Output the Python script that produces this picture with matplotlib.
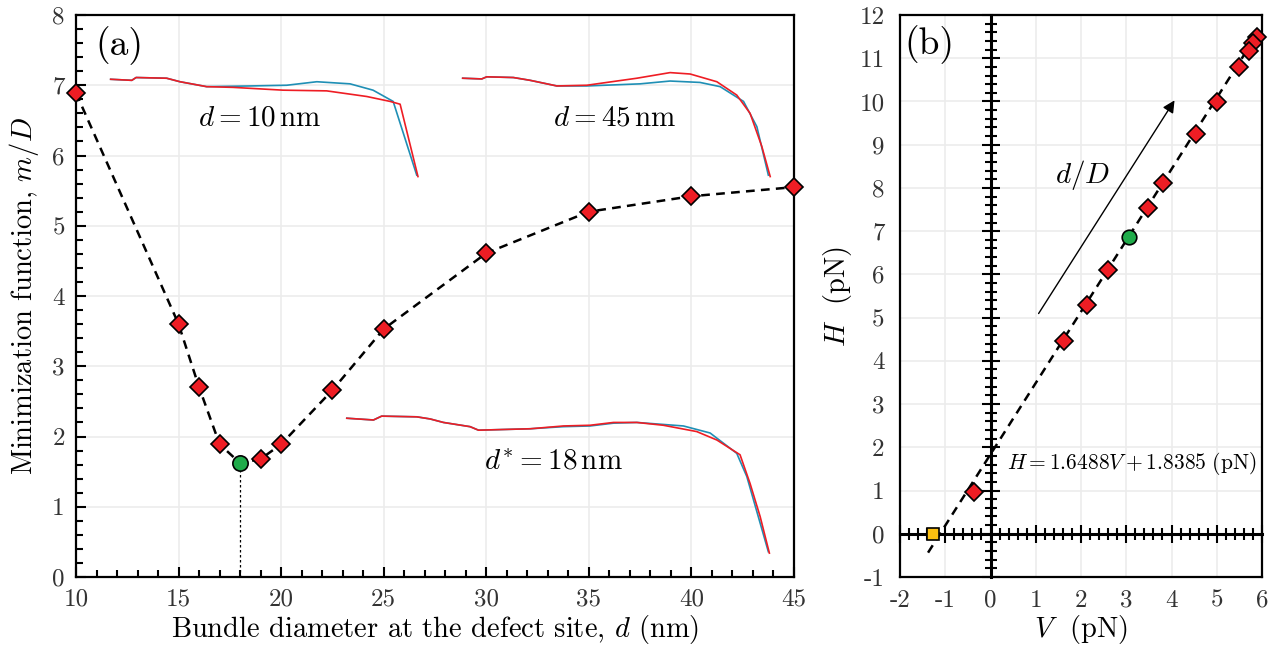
import numpy as np
import matplotlib
matplotlib.use("Agg")
import matplotlib.pyplot as plt
from matplotlib.ticker import MultipleLocator, FuncFormatter

plt.rcParams['font.family'] = 'serif'
plt.rcParams['font.serif'] = ['cmr10']
plt.rcParams['mathtext.fontset'] = 'cm'
plt.rcParams['axes.unicode_minus'] = False

# ---------------- Panel (a) data ----------------
d_vals = [10, 15, 16, 17, 18, 19, 20, 22.5, 25, 30, 35, 40, 45]
m_vals = [6.89, 3.60, 2.70, 1.89, 1.62, 1.68, 1.89, 2.66, 3.53, 4.61, 5.20, 5.42, 5.55]
d_star = 18
m_star = 1.62

# inset shape curves (drawn in panel (a) data units)
s10_red_x = [11.69, 12.72, 12.93, 14.42, 15.07, 16.37, 17.65, 20.09, 22.22, 24.17, 25.31, 25.80, 26.67]
s10_red_y = [7.085, 7.07, 7.11, 7.10, 7.05, 6.98, 6.97, 6.93, 6.92, 6.84, 6.77, 6.73, 5.70]
s10_blue_x = [11.69, 12.72, 12.93, 14.42, 15.07, 16.37, 18.48, 20.27, 21.74, 23.36, 24.48, 25.46, 26.61]
s10_blue_y = [7.085, 7.07, 7.11, 7.10, 7.05, 6.98, 6.99, 7.00, 7.05, 7.02, 6.93, 6.77, 5.72]

s45_red_x = [28.85, 29.78, 30.02, 31.32, 32.14, 33.44, 34.90, 36.36, 37.34, 38.96, 39.94, 41.24, 42.21, 42.86, 43.43, 43.84]
s45_red_y = [7.10, 7.09, 7.12, 7.11, 7.07, 6.99, 7.00, 7.06, 7.10, 7.18, 7.16, 7.05, 6.86, 6.60, 6.13, 5.70]
s45_blue_x = [28.85, 29.78, 30.02, 31.32, 32.14, 33.44, 34.90, 37.50, 38.96, 40.42, 41.40, 42.54, 43.19, 43.75]
s45_blue_y = [7.10, 7.09, 7.12, 7.11, 7.07, 6.99, 6.99, 7.02, 7.06, 7.04, 6.98, 6.77, 6.41, 5.72]

s18_red_x = [23.20, 24.50, 24.90, 26.61, 27.26, 27.91, 29.21, 29.62, 32.14, 33.76, 35.06, 36.20, 37.34, 38.63, 40.26, 41.24, 42.37, 42.86, 43.35, 43.80]
s18_red_y = [2.26, 2.235, 2.29, 2.28, 2.25, 2.20, 2.14, 2.09, 2.11, 2.15, 2.16, 2.20, 2.20, 2.16, 2.07, 1.95, 1.74, 1.33, 0.86, 0.34]
s18_blue_x = [23.20, 24.50, 24.90, 26.61, 27.26, 27.91, 29.21, 29.62, 32.14, 33.76, 35.06, 36.20, 37.34, 39.61, 40.91, 42.21, 42.70, 43.68, 43.75]
s18_blue_y = [2.26, 2.235, 2.29, 2.28, 2.25, 2.20, 2.14, 2.09, 2.11, 2.14, 2.15, 2.19, 2.20, 2.15, 2.05, 1.76, 1.43, 0.43, 0.36]

# ---------------- Panel (b) data ----------------
V_vals = [5.896, 5.794, 5.713, 5.498, 4.999, 4.535, 3.819, 3.474, 2.590, 2.126, 1.631, -0.358]
H_vals = [11.498, 11.345, 11.174, 10.804, 9.994, 9.240, 8.107, 7.528, 6.101, 5.292, 4.466, 0.973]
V_star, H_star = 3.061, 6.858
V_zero, H_zero = -1.277, 0.0
fit_slope, fit_icpt = 1.6488, 1.8385
fit_V_range = [-1.38, 5.95]

RED = '#ee1d24'
BLUE = '#1f8fb5'
GREEN = '#1fab4a'
YELLOW = '#fdc010'
GRID = '#ececec'
TICKFS = 18
LABFS = 20.5
ANNFS = 21

int_fmt = FuncFormatter(lambda v, p: '%d' % round(v))

fig = plt.figure(figsize=(12.73, 6.52), dpi=100)

# ---------- Panel (a) ----------
ax = fig.add_axes([76/1273, 1-577/652, (794-76)/1273, (577-15)/652])
ax.set_xlim(10, 45)
ax.set_ylim(0, 8)
ax.xaxis.set_major_locator(MultipleLocator(5))
ax.xaxis.set_minor_locator(MultipleLocator(1))
ax.yaxis.set_major_locator(MultipleLocator(1))
ax.yaxis.set_minor_locator(MultipleLocator(0.2))
ax.xaxis.set_major_formatter(int_fmt)
ax.yaxis.set_major_formatter(int_fmt)
ax.tick_params(which='both', direction='in', top=False, right=False, labelsize=TICKFS, width=1.5,
               labelcolor='#333333')
ax.tick_params(axis='x', pad=8)
ax.tick_params(axis='y', pad=8)
ax.tick_params(which='major', length=7)
ax.tick_params(which='minor', length=5)
ax.grid(True, which='major', color=GRID, lw=1.2, zorder=0)
ax.set_axisbelow(True)
for s in ax.spines.values():
    s.set_linewidth(1.6)

ax.plot(s10_blue_x, s10_blue_y, color=BLUE, lw=1.2, zorder=2)
ax.plot(s10_red_x, s10_red_y, color=RED, lw=1.2, zorder=2)
ax.plot(s45_blue_x, s45_blue_y, color=BLUE, lw=1.2, zorder=2)
ax.plot(s45_red_x, s45_red_y, color=RED, lw=1.2, zorder=2)
ax.plot(s18_blue_x, s18_blue_y, color=BLUE, lw=1.2, zorder=2)
ax.plot(s18_red_x, s18_red_y, color=RED, lw=1.2, zorder=2)

ax.plot([d_star, d_star], [0, m_star], color='black', lw=0.9, ls=(0, (2, 2)), zorder=3)
ax.plot(d_vals, m_vals, color='black', lw=1.8, ls=(0, (3.5, 2.5)), zorder=4, clip_on=False)
red_d = [d for d in d_vals if d != d_star]
red_m = [m for d, m in zip(d_vals, m_vals) if d != d_star]
ax.plot(red_d, red_m, ls='none', marker='D', ms=9.5, mfc=RED, mec='black', mew=1.2, zorder=5, clip_on=False)
ax.plot([d_star], [m_star], ls='none', marker='o', ms=11, mfc=GREEN, mec='black', mew=1.2, zorder=5)

ax.text(12.1, 7.57, '(a)', fontsize=27, ha='center', va='center')
ax.text(18.97, 6.53, r'$d = 10\,\mathrm{nm}$', fontsize=ANNFS, ha='center', va='center')
ax.text(36.28, 6.53, r'$d = 45\,\mathrm{nm}$', fontsize=ANNFS, ha='center', va='center')
ax.text(33.26, 1.64, r'$d^{*} = 18\,\mathrm{nm}$', fontsize=ANNFS, ha='center', va='center')

ax.set_xlabel(r'Bundle diameter at the defect site, $d$ (nm)', fontsize=LABFS, labelpad=2)
ax.set_ylabel(r'Minimization function, $m/D$', fontsize=LABFS, labelpad=8)

# ---------- Panel (b) ----------
pos_b = [900/1273, 1-577/652, (1262-900)/1273, (577-15)/652]
bx = fig.add_axes(pos_b)
bx.set_xlim(-2, 6)
bx.set_ylim(-1, 12)
bx.xaxis.set_major_locator(MultipleLocator(1))
bx.yaxis.set_major_locator(MultipleLocator(1))
bx.xaxis.set_major_formatter(int_fmt)
bx.yaxis.set_major_formatter(int_fmt)
bx.tick_params(which='both', length=0, labelsize=TICKFS, labelcolor='#333333')
bx.tick_params(axis='x', pad=9)
bx.tick_params(axis='y', pad=11)
bx.grid(True, which='major', color=GRID, lw=1.2, zorder=0)
bx.set_axisbelow(True)
for s in bx.spines.values():
    s.set_linewidth(1.6)
bx.set_xlabel(r'$V$  (pN)', fontsize=LABFS, labelpad=1)
bx.set_ylabel(r'$H$  (pN)', fontsize=LABFS, labelpad=4)

cx = fig.add_axes(pos_b, sharex=bx, sharey=bx)
cx.patch.set_visible(False)
cx.spines['left'].set_position(('data', 0))
cx.spines['bottom'].set_position(('data', 0))
cx.spines['top'].set_visible(False)
cx.spines['right'].set_visible(False)
cx.spines['left'].set_linewidth(2.2)
cx.spines['bottom'].set_linewidth(2.2)
cx.xaxis.set_minor_locator(MultipleLocator(0.2))
cx.yaxis.set_minor_locator(MultipleLocator(0.2))
cx.tick_params(which='both', direction='inout', labelbottom=False, labelleft=False, width=1.5)
cx.tick_params(which='major', length=13)
cx.tick_params(which='minor', length=9)
cx.set_xlim(-2, 6)
cx.set_ylim(-1, 12)

fv = np.array(fit_V_range)
cx.plot(fv, fit_slope * fv + fit_icpt, color='black', lw=1.8, ls=(0, (3.5, 2.5)), zorder=4)
cx.plot(V_vals, H_vals, ls='none', marker='D', ms=9.5, mfc=RED, mec='black', mew=1.2, zorder=5, clip_on=False)
cx.plot([V_star], [H_star], ls='none', marker='o', ms=10.5, mfc=GREEN, mec='black', mew=1.2, zorder=5)
cx.plot([V_zero], [H_zero], ls='none', marker='s', ms=9, mfc=YELLOW, mec='black', mew=1.2, zorder=5)

cx.annotate('', xy=(4.10, 10.08), xytext=(1.03, 5.04),
            arrowprops=dict(arrowstyle='-|>', color='black', lw=1.0, mutation_scale=18))
cx.text(2.04, 8.30, r'$d/D$', fontsize=ANNFS, ha='center', va='center')
cx.text(-1.34, 11.31, '(b)', fontsize=27, ha='center', va='center')
cx.text(0.37, 1.63, r'$H = 1.6488V + 1.8385\ \mathrm{(pN)}$', fontsize=15.5, ha='left', va='center')

fig.savefig('out.png', dpi=100)
